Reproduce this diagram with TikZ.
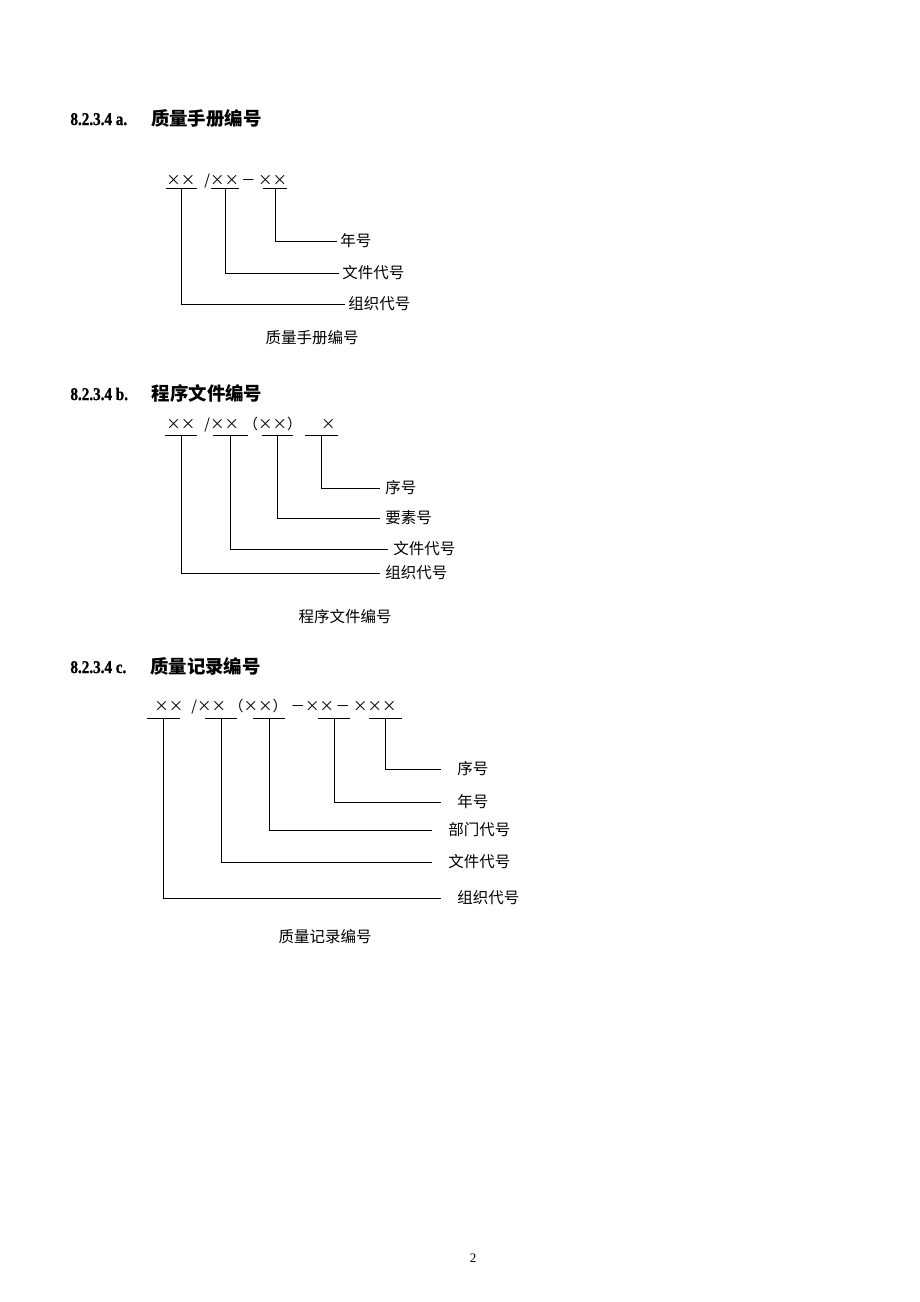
\documentclass[tikz,border=0pt]{standalone}
\usepackage{fontspec}
\setmainfont{Liberation Serif}
\newfontfamily\headfont{Liberation Serif}[UprightFont={* Bold},FakeStretch=0.84,FakeBold=0.8]
\newfontfamily\cjk{Noto Sans CJK SC}
\tikzset{
    head/.style={anchor=west,inner sep=0pt,font=\headfont\fontsize{18}{20}\selectfont},
    code/.style={anchor=west,inner sep=0pt,font=\cjk\fontsize{14.5}{17}\selectfont},
    uline/.style={fill,inner sep=0pt,minimum height=0.9pt},
    lbl/.style={anchor=west,inner sep=0pt,font=\cjk\fontsize{15.5}{18}\selectfont},
    capt/.style={inner sep=0pt,font=\cjk\fontsize{15.5}{18}\selectfont}
}
\newcommand{\hcjk}[1]{\hspace{24pt}{\cjk\bfseries\fontsize{18.4}{20}\selectfont #1}}

\begin{document}
\begin{tikzpicture}[x=1pt,y=-1pt,line width=0.9pt]
    \useasboundingbox [fill=white] (0,0) rectangle (920,1302);

    % a. quality manual
    \node [head] (ha) at (70,118) {8.2.3.4 a.\hcjk{质量手册编号}};
    \node [code] (ca) at (166,181) {××\hspace{9pt}/××\hspace{2pt}－\hspace{2.5pt}××};
    \node [uline,minimum width=31pt] (ua1) at (181.5,188) {};
    \node [uline,minimum width=28pt] (ua2) at (225,188) {};
    \node [uline,minimum width=24pt] (ua3) at (275,188) {};
    \node [lbl] (la1) at (348,304) {组织代号};
    \node [lbl] (la2) at (342,273) {文件代号};
    \node [lbl] (la3) at (340,241) {年号};
    \foreach \u/\l in {ua1/la1,ua2/la2,ua3/la3} {
        \draw (\u.south) |- ([xshift=-3pt]\l.west);
    }
    \node [capt] (qa) at (312,338) {质量手册编号};

    % b. procedure document
    \node [head] (hb) at (70,393) {8.2.3.4 b.\hcjk{程序文件编号}};
    \node [code] (cb) at (166,425) {××\hspace{9pt}/××\hspace{4.5pt}（××）\hspace{19.5pt}×};
    \node [uline,minimum width=32pt] (ub1) at (181,435) {};
    \node [uline,minimum width=35pt] (ub2) at (230.5,435) {};
    \node [uline,minimum width=31pt] (ub3) at (277.5,435) {};
    \node [uline,minimum width=33pt] (ub4) at (321.5,435) {};
    \node [lbl] (lb1) at (385,573) {组织代号};
    \node [lbl] (lb2) at (393,549) {文件代号};
    \node [lbl] (lb3) at (385,518) {要素号};
    \node [lbl] (lb4) at (385,488) {序号};
    \foreach \u/\l in {ub1/lb1,ub2/lb2,ub3/lb3,ub4/lb4} {
        \draw (\u.south) |- ([xshift=-5pt]\l.west);
    }
    \node [capt] (qb) at (345,617) {程序文件编号};

    % c. quality record
    \node [head] (hc) at (70,666) {8.2.3.4 c.\hcjk{质量记录编号}};
    \node [code] (cc) at (154,707) {××\hspace{8pt}/××\hspace{3pt}（××）\hspace{3.5pt}－××\hspace{1.5pt}－\hspace{3pt}×××};
    \node [uline,minimum width=33pt] (uc1) at (163.5,718) {};
    \node [uline,minimum width=32pt] (uc2) at (221,718) {};
    \node [uline,minimum width=32pt] (uc3) at (269,718) {};
    \node [uline,minimum width=32pt] (uc4) at (334,718) {};
    \node [uline,minimum width=33pt] (uc5) at (385.5,718) {};
    \node [lbl] (lc1) at (457,898) {组织代号};
    \node [lbl] (lc2) at (448,862) {文件代号};
    \node [lbl] (lc3) at (448,830) {部门代号};
    \node [lbl] (lc4) at (457,802) {年号};
    \node [lbl] (lc5) at (457,769) {序号};
    \foreach \u/\l in {uc1/lc1,uc2/lc2,uc3/lc3,uc4/lc4,uc5/lc5} {
        \draw (\u.south) |- ([xshift=-16pt]\l.west);
    }
    \node [capt] (qc) at (325,937) {质量记录编号};

    \node [inner sep=0pt,font=\fontsize{13}{15}\selectfont] (pg) at (473,1258) {2};
\end{tikzpicture}
\end{document}
